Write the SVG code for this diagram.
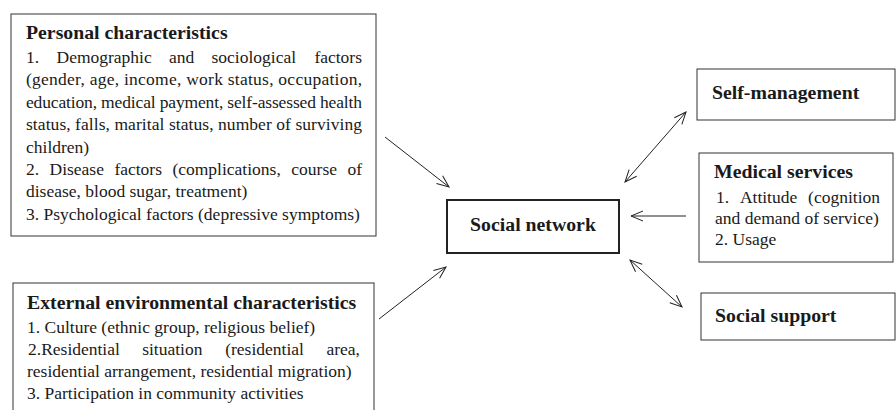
<svg xmlns="http://www.w3.org/2000/svg" width="896" height="410" viewBox="0 0 896 410">
<style>
  .box{fill:#fff;stroke:#333;stroke-width:1}
  .main{fill:#fff;stroke:#222;stroke-width:2}
  .h{font-family:"Liberation Serif","Times New Roman",serif;font-weight:bold;font-size:19.8px;fill:#1a1a1a}
  .t{font-family:"Liberation Serif","Times New Roman",serif;font-size:17.5px;fill:#1a1a1a}
  .e{text-anchor:end}
  .c{stroke:#222;stroke-width:1;fill:none}
</style>
<defs>
  <marker id="arr" viewBox="-13 -7 14 14" refX="0" refY="0" markerWidth="14" markerHeight="14" markerUnits="userSpaceOnUse" orient="auto-start-reverse">
    <path d="M-12,-5 L0,0 L-12,5" fill="none" stroke="#222" stroke-width="1"/>
  </marker>
</defs>
<rect width="896" height="410" fill="#fff"/>

<g id="personal">
  <rect class="box" x="11" y="14" width="365" height="222"/>
  <text class="h" x="26" y="39">Personal characteristics</text>
  <text class="t" x="26" y="63">1.</text>
  <text class="t" x="56.5" y="63">Demographic</text>
  <text class="t" x="169" y="63">and</text>
  <text class="t" x="211.5" y="63">sociological</text>
  <text class="t e" x="362" y="63">factors</text>
  <text class="t" x="26" y="85.4" textLength="336" lengthAdjust="spacing">(gender, age, income, work status, occupation,</text>
  <text class="t" x="26" y="107.8" textLength="336" lengthAdjust="spacing">education, medical payment, self-assessed health</text>
  <text class="t" x="26" y="130.2" textLength="336" lengthAdjust="spacing">status, falls, marital status, number of surviving</text>
  <text class="t" x="26" y="152.6">children)</text>
  <text class="t" x="26" y="175">2.</text>
  <text class="t" x="49.5" y="175">Disease</text>
  <text class="t" x="114.4" y="175">factors</text>
  <text class="t" x="172.4" y="175">(complications,</text>
  <text class="t" x="291.3" y="175">course</text>
  <text class="t e" x="362" y="175">of</text>
  <text class="t" x="26" y="197.4">disease, blood sugar, treatment)</text>
  <text class="t" x="26" y="219.8">3. Psychological factors (depressive symptoms)</text>
</g>

<g id="external">
  <rect class="box" x="13" y="283" width="361" height="150"/>
  <text class="h" x="27" y="309">External environmental characteristics</text>
  <text class="t" x="27" y="333">1. Culture (ethnic group, religious belief)</text>
  <text class="t" x="28" y="355">2.Residential</text>
  <text class="t" x="142.2" y="355">situation</text>
  <text class="t" x="225.2" y="355">(residential</text>
  <text class="t e" x="360" y="355">area,</text>
  <text class="t" x="27" y="377">residential arrangement, residential migration)</text>
  <text class="t" x="27" y="399">3. Participation in community activities</text>
</g>

<g id="social-network">
  <rect class="main" x="447" y="200" width="172" height="53"/>
  <text class="h" x="533" y="231" text-anchor="middle">Social network</text>
</g>

<g id="self-management">
  <rect class="box" x="697" y="69" width="198" height="51"/>
  <text class="h" x="712" y="99">Self-management</text>
</g>

<g id="medical-services">
  <rect class="box" x="699" y="153" width="194" height="109"/>
  <text class="h" x="714" y="178">Medical services</text>
  <text class="t" x="716" y="203">1.</text>
  <text class="t" x="739.9" y="203">Attitude</text>
  <text class="t e" x="880" y="203">(cognition</text>
  <text class="t" x="715" y="224">and demand of service)</text>
  <text class="t" x="715" y="245">2. Usage</text>
</g>

<g id="social-support">
  <rect class="box" x="701" y="293" width="194" height="47"/>
  <text class="h" x="715" y="322">Social support</text>
</g>

<g id="connectors">
  <line class="c" x1="385" y1="137" x2="449" y2="187" marker-end="url(#arr)"/>
  <line class="c" x1="379" y1="319" x2="446" y2="267" marker-end="url(#arr)"/>
  <line class="c" x1="625" y1="182" x2="686" y2="112" marker-start="url(#arr)" marker-end="url(#arr)"/>
  <line class="c" x1="686" y1="216" x2="631" y2="216" marker-end="url(#arr)"/>
  <line class="c" x1="630" y1="260" x2="682" y2="307" marker-start="url(#arr)" marker-end="url(#arr)"/>
</g>
</svg>
